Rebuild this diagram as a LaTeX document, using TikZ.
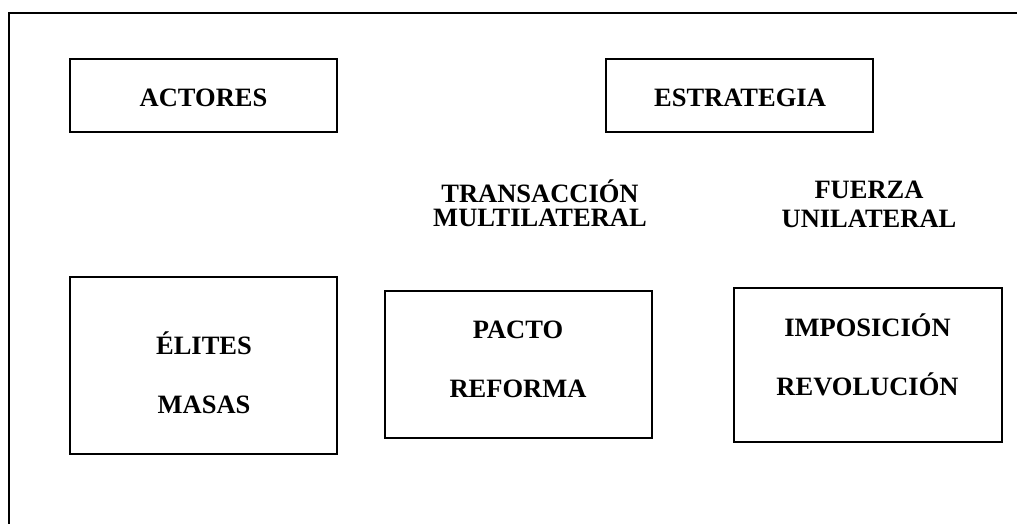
\documentclass[tikz,border=0pt]{standalone}
\usepackage{fontspec}
\setmainfont{Liberation Serif}
\begin{document}
\begin{tikzpicture}[x=1pt,y=-1pt,
  box/.style={draw=black,line width=2.6pt,inner sep=0pt,rectangle},
  lbl/.style={anchor=base,inner sep=0pt,font=\fontsize{26.5}{26.5}\selectfont\bfseries}]
\useasboundingbox (0,0) rectangle (1017,524);
% frame (only top and left edges are visible)
\coordinate (fbl) at (9,530);
\coordinate (ftl) at (9,13);
\coordinate (ftr) at (1025,13);
\draw[line width=2.4pt] (fbl) -- (ftl) -- (ftr);
% boxes
\node[box,minimum width=267pt,minimum height=73pt] (actoresbox) at (203.5,95.5) {};
\node[box,minimum width=267pt,minimum height=73pt] (estrbox) at (739.5,95.5) {};
\node[box,minimum width=267pt,minimum height=177pt] (elitesbox) at (203.5,365.5) {};
\node[box,minimum width=267pt,minimum height=147pt] (pactobox) at (518.5,364.5) {};
\node[box,minimum width=268pt,minimum height=154pt] (imposbox) at (868,365) {};
% texts
\node[lbl] (actores) at (203.5,107) {ACTORES};
\node[lbl] (estrategia) at (740,107) {ESTRATEGIA};
\node[lbl] (transaccion) at (540,202) {TRANSACCIÓN};
\node[lbl] (multilateral) at (540,226.5) {MULTILATERAL};
\node[lbl] (fuerza) at (869,198) {FUERZA};
\node[lbl] (unilateral) at (869,227) {UNILATERAL};
\node[lbl] (elites) at (204,354) {ÉLITES};
\node[lbl] (masas) at (204,413) {MASAS};
\node[lbl] (pacto) at (518,338) {PACTO};
\node[lbl] (reforma) at (518,397) {REFORMA};
\node[lbl] (imposicion) at (867.5,336) {IMPOSICIÓN};
\node[lbl] (revolucion) at (867.5,395) {REVOLUCIÓN};
\end{tikzpicture}
\end{document}
